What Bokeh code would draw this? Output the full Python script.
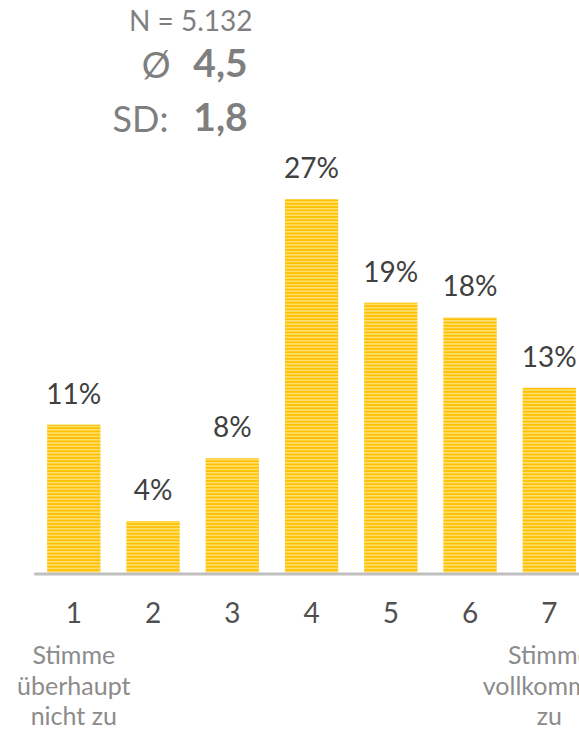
from bokeh.plotting import figure
from bokeh.models import Range1d, ColumnDataSource, Label
from bokeh.core.properties import value
from bokeh.embed import file_html
from bokeh.resources import INLINE

# ---- data ----
categories = [1, 2, 3, 4, 5, 6, 7]
shares = [10.6, 3.7, 8.2, 26.8, 19.35, 18.3, 13.25]
tick_labels = ["1", "2", "3", "4", "5", "6", "7"]
end_label_cats = [1, 7]
end_label_lines = [["Stimme", "überhaupt", "nicht zu"], ["Stimme", "vollkommen", "zu"]]
n_text = "N = 5.132"
mean_text = "4,5"
sd_text = "1,8"

# ---- layout ----
W, H = 579, 731
PX_CAT = 79.25
PX_PCT = 13.94
X1_PX = 73.3
BASE_PX = 572  # baseline from top

x_start = 1 - X1_PX / PX_CAT
x_end = x_start + W / PX_CAT
y_end = BASE_PX / PX_PCT
y_start = -(H - BASE_PX) / PX_PCT

FONT = "Lato"

p = figure(width=W, height=H, output_backend="svg", toolbar_location=None,
           x_range=Range1d(x_start, x_end), y_range=Range1d(y_start, y_end),
           x_axis_location=None, y_axis_location=None, min_border=0,
           outline_line_color=None, background_fill_color="white",
           border_fill_color="white")
p.xgrid.visible = False
p.ygrid.visible = False

bars = ColumnDataSource(dict(x=categories, top=shares,
                             lbl=[f"{round(v)}%" for v in shares]))
p.vbar(x="x", top="top", bottom=0, width=53.2 / PX_CAT, source=bars,
       fill_color="#FFDF70", line_color=None,
       hatch_pattern="horizontal_line", hatch_color="#FFC000",
       hatch_scale=3.3, hatch_weight=2.2)

p.segment(x0=0.5, y0=-0.1, x1=x_end + 1, y1=-0.1, line_width=3,
          line_color="#BFBFBF")

p.text(x="x", y="top", text="lbl", source=bars, y_offset=-32,
       text_align="center", text_baseline="alphabetic",
       text_font=value(FONT), text_font_size="28px", text_color="#404040")

p.text(x=categories, y=[0] * len(categories), text=tick_labels, y_offset=40,
       text_align="center", text_baseline="alphabetic",
       text_font=value(FONT), text_font_size="28px", text_color="#505050")

offs = [81, 112, 142]
ex, et, eo = [], [], []
for c, lines in zip(end_label_cats, end_label_lines):
    for ln, o in zip(lines, offs):
        ex.append(c); et.append(ln); eo.append(o)
p.text(x=ex, y=[0] * len(ex), text=et, y_offset=eo,
       text_align="center", text_baseline="alphabetic",
       text_font=value(FONT), text_font_size="25px", text_color="#8C8C8C")

def lab(txt, x, y_top, align, size, bold=False):
    p.add_layout(Label(x=x, y=H - y_top, x_units="screen", y_units="screen",
                       text=txt, text_align=align, text_baseline="alphabetic",
                       text_font=FONT, text_font_size=size,
                       text_font_style="bold" if bold else "normal",
                       text_color="#7F7F7F"))

lab(n_text, 252, 19.7, "right", "28px")
lab("Ø", 170, 63, "right", "36px")
lab(mean_text, 220, 62, "center", "39px", True)
lab("SD:", 168, 117, "right", "36px")
lab(sd_text, 220, 116, "center", "39px", True)

open("out.html", "w").write(file_html(p, INLINE))
